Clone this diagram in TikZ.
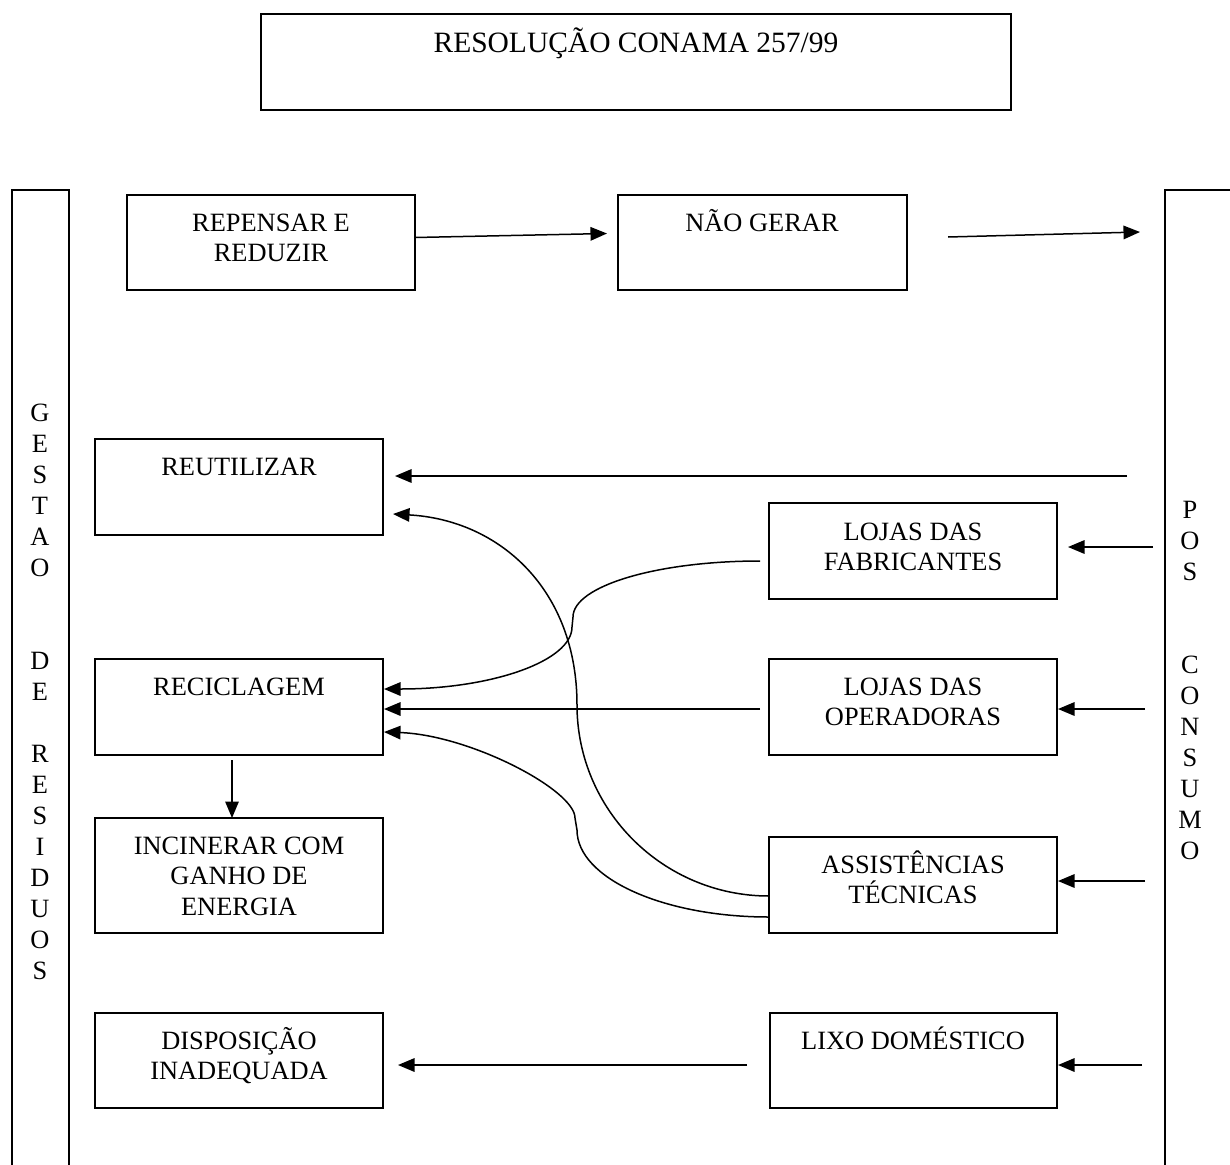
\documentclass[tikz,border=0pt]{standalone}
\usepackage{fontspec}
\setmainfont{Liberation Serif}
\usetikzlibrary{arrows.meta,calc}
\newcommand{\firstln}{\rule{0pt}{24pt}}
\begin{document}
\begin{tikzpicture}[x=1pt,y=-1pt,
  box/.style={draw, line width=1.6pt, anchor=north west, inner sep=0pt, outer sep=0pt},
  txt/.style={anchor=north, align=center, inner sep=0pt, font=\fontsize{26.4pt}{30.5pt}\selectfont},
  coltxt/.style={anchor=north, align=center, inner sep=0pt, font=\fontsize{26.4pt}{31pt}\selectfont},
  panel/.style={line width=1.6pt},
  arr/.style={line width=1.5pt, -{Triangle[length=16.5pt,width=13.5pt]}},
]
\useasboundingbox (0,0) rectangle (1230,1164);
\fill[white] (0,0) rectangle (1230,1164);

% title
\node[box, minimum width=750pt, minimum height=96pt] (title) at (261,14) {};
\node[txt, font=\fontsize{29.5pt}{34pt}\selectfont] (title-t) at (636,28) {\firstln RESOLUÇÃO CONAMA 257/99};

% side panels
\draw[panel] (12,1170) -- (12,190) -- (69,190) -- (69,1170);
\draw[panel] (1235,190) -- (1165,190) -- (1165,1170);
\node[coltxt] (gestao) at (40,397) {\firstln G\\E\\S\\T\\A\\O\\[62pt]D\\E\\[31pt]R\\E\\S\\I\\D\\U\\O\\S};
\node[coltxt] (pos) at (1190,494) {\firstln P\\O\\S\\[62pt]C\\O\\N\\S\\U\\M\\O};

% boxes
\node[box, minimum width=288pt, minimum height=95pt] (rep) at (127,195) {};
\node[txt] (rep-t) at (271,207) {\firstln REPENSAR E\\REDUZIR};
\node[box, minimum width=289pt, minimum height=95pt] (nao) at (618,195) {};
\node[txt] (nao-t) at (762,207) {\firstln NÃO GERAR};

\node[box, minimum width=288pt, minimum height=96pt] (reut) at (95,439) {};
\node[txt] (reut-t) at (239,451) {\firstln REUTILIZAR};
\node[box, minimum width=288pt, minimum height=96pt] (fab) at (769,503) {};
\node[txt] (fab-t) at (913,516) {\firstln LOJAS DAS\\FABRICANTES};

\node[box, minimum width=288pt, minimum height=96pt] (recic) at (95,659) {};
\node[txt] (recic-t) at (239,671) {\firstln RECICLAGEM};
\node[box, minimum width=288pt, minimum height=96pt] (oper) at (769,659) {};
\node[txt] (oper-t) at (913,671) {\firstln LOJAS DAS\\OPERADORAS};

\node[box, minimum width=288pt, minimum height=115pt] (incin) at (95,818) {};
\node[txt] (incin-t) at (239,830) {\firstln INCINERAR COM\\GANHO DE\\ENERGIA};
\node[box, minimum width=288pt, minimum height=96pt] (assist) at (769,837) {};
\node[txt] (assist-t) at (913,849) {\firstln ASSISTÊNCIAS\\TÉCNICAS};

\node[box, minimum width=288pt, minimum height=95pt] (disp) at (95,1013) {};
\node[txt] (disp-t) at (239,1025) {\firstln DISPOSIÇÃO\\INADEQUADA};
\node[box, minimum width=287pt, minimum height=95pt] (lixo) at (770,1013) {};
\node[txt] (lixo-t) at (913,1025) {\firstln LIXO DOMÉSTICO};

% free coordinates
\coordinate (f1s) at (948,237);
\coordinate (f1e) at (1140,232);
\coordinate (c1) at (1127,476);
\coordinate (c2) at (1153,547);
\coordinate (c3) at (1145,709);
\coordinate (c4) at (1145,881);
\coordinate (c5) at (1142,1065);

% straight arrows
\draw[arr] ($(rep.east)+(0,-5)$) -- ($(nao.west)+(-11,-9)$);
\draw[arr] (f1s) -- (f1e);
\draw[arr] (c1) -- ($(reut.east)+(12,-11)$);
\draw[arr] (c2) -- ($(fab.east)+(11,-4)$);
\draw[arr] (c3) -- ($(oper.east)+(1,2)$);
\draw[arr] (c4) -- ($(assist.east)+(1,-4)$);
\draw[arr] (c5) -- ($(lixo.east)+(1,4.5)$);
\draw[arr] ($(oper.west)+(-9,2)$) -- ($(recic.east)+(1,2)$);
\draw[arr] ($(lixo.west)+(-23,4.5)$) -- ($(disp.east)+(15,4.5)$);
\draw[arr] ($(recic.south)+(-7,5)$) -- ($(incin.north)+(-7,0)$);

% curved arrows
\draw[arr] ($(fab.west)+(-9,10)$) .. controls (657,561) and (573,586) .. (573,617)
  -- (572,627) .. controls (572,661) and (492,689) .. ($(recic.east)+(1,-18)$);
\draw[arr] ($(assist.west)+(0,11)$) .. controls (663,896) and (577,810) .. (577,705)
  .. controls (577,590) and (500,520) .. ($(reut.east)+(10,27)$);
\draw[arr] ($(assist.west)+(0,32)$) .. controls (663,917) and (577,878) .. (577,830)
  -- (575,818) .. controls (575,790) and (470,735) .. ($(recic.east)+(1,25)$);
\end{tikzpicture}
\end{document}
